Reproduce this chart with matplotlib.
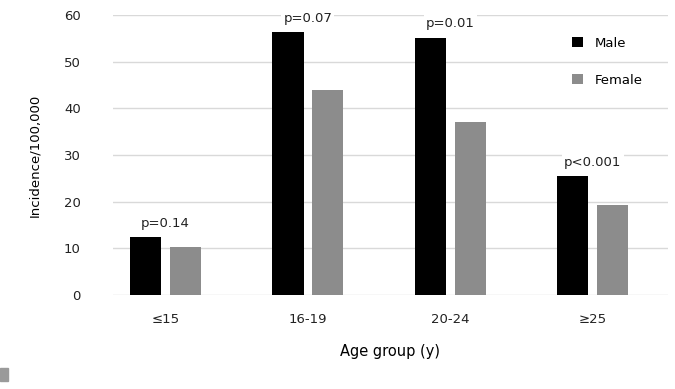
import numpy as np
import matplotlib.pyplot as plt
from matplotlib.patches import Rectangle

groups = ['\u226415', '16-19', '20-24', '\u226525']
male = [12.4, 56.3, 55.2, 25.5]
female = [10.3, 43.9, 37.0, 19.3]
pvals = ['p=0.14', 'p=0.07', 'p=0.01', 'p<0.001']

fig = plt.figure(figsize=(6.75, 3.89), dpi=100)
ax = fig.add_axes([0.167, 0.242, 0.823, 0.719])

x = np.arange(len(groups))
w = 0.22
ax.bar(x - 0.14, male, w, color='black', label='Male', zorder=3)
ax.bar(x + 0.14, female, w, color='#8c8c8c', label='Female', zorder=3)

# p-values above each pair
for i, p in enumerate(pvals):
    top = max(male[i], female[i])
    ax.text(x[i], top + 1.6, p, ha='center', va='bottom', fontsize=9.5,
            color='#222222', zorder=4,
            bbox=dict(facecolor='white', edgecolor='none', pad=1.5))

ax.set_ylim(0, 60)
ax.set_xlim(-0.37, 3.53)
ax.set_yticks(range(0, 61, 10))
ax.set_xticks(x)
ax.set_xticklabels(groups)
ax.grid(axis='y', color='#d9d9d9', linewidth=1, zorder=0)
for s in ax.spines.values():
    s.set_visible(False)
ax.tick_params(length=0, labelsize=9.5, colors='#222222')
ax.tick_params(axis='y', pad=23)
ax.tick_params(axis='x', pad=13)
ax.set_ylabel('Incidence/100,000', fontsize=9.5, labelpad=16)
ax.set_xlabel('Age group (y)', fontsize=10.5, labelpad=13)

ax.legend(loc='upper right', bbox_to_anchor=(0.975, 0.965), frameon=False,
          fontsize=9.5, handlelength=0.8, handleheight=0.8,
          labelspacing=1.8, handletextpad=0.9)

fig.patches.append(Rectangle((0, 0.02), 0.012, 0.035, transform=fig.transFigure,
                             color='#9a9a9a', figure=fig))

fig.savefig('out.png', dpi=100, facecolor='white')
